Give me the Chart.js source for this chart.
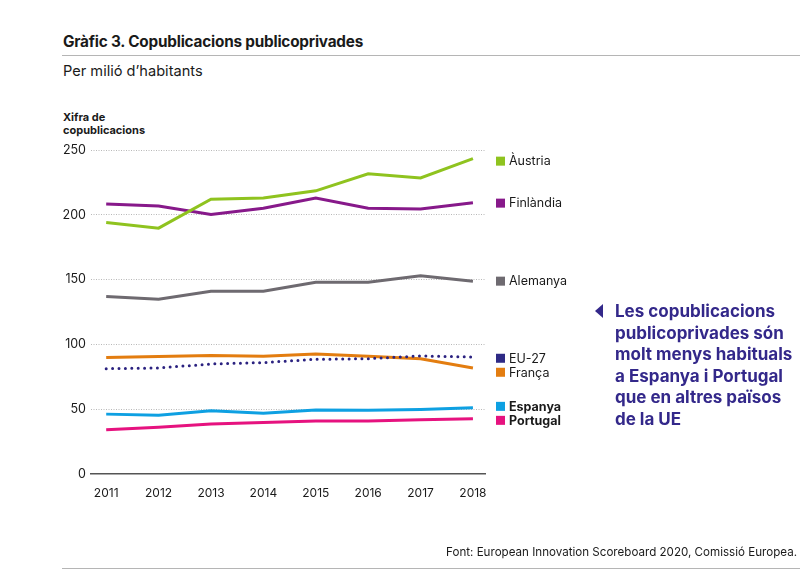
<!DOCTYPE html>
<html>
<head>
<meta charset="utf-8">
<script src="https://cdn.jsdelivr.net/npm/chart.js@4/dist/chart.umd.min.js"></script>
<style>
  html, body { margin: 0; padding: 0; background: #fff; }
  body { width: 800px; height: 570px; position: relative; overflow: hidden; font-family: Inter, "Open Sans", sans-serif; color: #1a1a1a; }
  #chart { position: absolute; left: 0; top: 0; }
  .title { position: absolute; left: 63px; top: 32px; font-size: 15.3px; font-weight: 700; letter-spacing: -0.2px; }
  .rule { position: absolute; left: 62px; right: 0; height: 1px; background: #b5b5b5; }
  .sub { position: absolute; left: 63px; top: 62px; font-size: 14.6px; }
  .ytitle { position: absolute; left: 63px; top: 111px; font-size: 11px; font-weight: 700; line-height: 13px; }
  .callout { position: absolute; left: 615px; top: 301px; font-size: 17px; font-weight: 700; line-height: 21.5px; color: #33288a; letter-spacing: 0; }
  .tri { position: absolute; left: 595px; top: 304px; width: 0; height: 0; border-top: 7px solid transparent; border-bottom: 7px solid transparent; border-right: 8px solid #33288a; }
  .src { position: absolute; right: 3px; top: 545px; font-size: 11.6px; }
</style>
</head>
<body>
<div class="title">Gràfic 3. Copublicacions publicoprivades</div>
<div class="rule" style="top:55px"></div>
<div class="sub">Per milió d’habitants</div>
<div class="ytitle">Xifra de<br>copublicacions</div>
<canvas id="chart" width="800" height="570"></canvas>
<div class="tri"></div>
<div class="callout">Les copublicacions<br>publicoprivades són<br>molt menys habituals<br>a Espanya i Portugal<br>que en altres països<br>de la UE</div>
<div class="src">Font: European Innovation Scoreboard 2020, Comissió Europea.</div>
<div class="rule" style="top:568px"></div>
<script>
const years = [2011, 2012, 2013, 2014, 2015, 2016, 2017, 2018];
const yTicks = [0, 50, 100, 150, 200, 250];

const austria   = [194, 189.7, 212, 213, 218.5, 231.7, 228.4, 243.3];
const finlandia = [208.3, 206.7, 200.3, 205, 212.9, 205, 204.4, 209.3];
const alemanya  = [136.9, 134.9, 141, 141, 148, 148, 152.9, 148.8];
const eu27      = [81.3, 81.8, 84.9, 86, 88.5, 89, 91.1, 90.3];
const franca    = [89.8, 90.6, 91.4, 90.8, 92.6, 90.8, 89, 81.8];
const espanya   = [46.2, 45.4, 48.8, 46.8, 49.3, 49.1, 49.8, 51.2];
const portugal  = [34.2, 36, 38.5, 39.8, 40.8, 40.8, 41.9, 42.7];

const seriesNames = ["Àustria", "Finlàndia", "Alemanya", "EU-27", "França", "Espanya", "Portugal"];
// value at which each legend label sits beside the plot
const labelAt = [241.4, 209, 148.8, 89.3, 78.5, 52.2, 41.4];

const toPoints = arr => arr.map((v, i) => ({ x: years[i], y: v }));

const line = (label, data, color, extra) => Object.assign({
    label: label,
    data: toPoints(data),
    borderColor: color,
    backgroundColor: color,
    borderWidth: 3,
    pointRadius: 0,
    tension: 0,
    fill: false
}, extra || {});

// labels to the right of the lines
const sideLegend = {
    id: "sideLegend",
    afterDraw(chart) {
        const ctx = chart.ctx;
        const y = chart.scales.y;
        ctx.save();
        chart.data.datasets.forEach((ds, i) => {
            const py = y.getPixelForValue(labelAt[i]);
            ctx.fillStyle = ds.legendColor || ds.borderColor;
            ctx.fillRect(496, py - 4.5, 9, 9);
            ctx.fillStyle = "#1a1a1a";
            const bold = ds.label === "Espanya" || ds.label === "Portugal";
            ctx.font = (bold ? "700 " : "400 ") + "12.5px Inter, 'Open Sans', sans-serif";
            ctx.textBaseline = "middle";
            ctx.fillText(ds.label, 509, py + 0.5);
        });
        ctx.restore();
    }
};

new Chart(document.getElementById("chart"), {
    type: "line",
    data: {
        datasets: [
            line(seriesNames[0], austria, "#8fc31f"),
            line(seriesNames[1], finlandia, "#87198a"),
            line(seriesNames[2], alemanya, "#6e6a70"),
            line(seriesNames[3], eu27, "#2b2280", { borderDash: [0, 6.4], borderCapStyle: "round", borderWidth: 3, legendColor: "#2e2a85" }),
            line(seriesNames[4], franca, "#e37d10"),
            line(seriesNames[5], espanya, "#0ea0e2"),
            line(seriesNames[6], portugal, "#e6127f")
        ]
    },
    options: {
        responsive: false,
        animation: false,
        layout: { padding: { left: 61, top: 150, right: 315, bottom: 66 } },
        plugins: { legend: { display: false }, tooltip: { enabled: false } },
        scales: {
            x: {
                type: "linear",
                min: 2010.71,
                max: 2018.23,
                afterBuildTicks: s => { s.ticks = years.map(v => ({ value: v })); },
                afterFit: s => { s.height = 30; },
                grid: { display: false, drawTicks: false },
                border: { display: true, color: "#555", width: 1.5 },
                ticks: {
                    padding: 12,
                    color: "#1a1a1a",
                    font: { family: "Inter, 'Open Sans', sans-serif", size: 12 },
                    callback: v => String(v)
                }
            },
            y: {
                min: 0,
                max: 250,
                afterBuildTicks: s => { s.ticks = yTicks.map(v => ({ value: v })); },
                afterFit: s => { s.width = 30; },
                grid: {
                    drawTicks: false,
                    color: c => (c.tick && c.tick.value === 0) ? "rgba(0,0,0,0)" : "#b8b8b8",
                    lineWidth: 1
                },
                border: { display: false, dash: [1, 1.5] },
                ticks: {
                    padding: 5,
                    color: "#1a1a1a",
                    font: { family: "Inter, 'Open Sans', sans-serif", size: 12.5 }
                }
            }
        }
    },
    plugins: [sideLegend]
});
</script>
</body>
</html>
